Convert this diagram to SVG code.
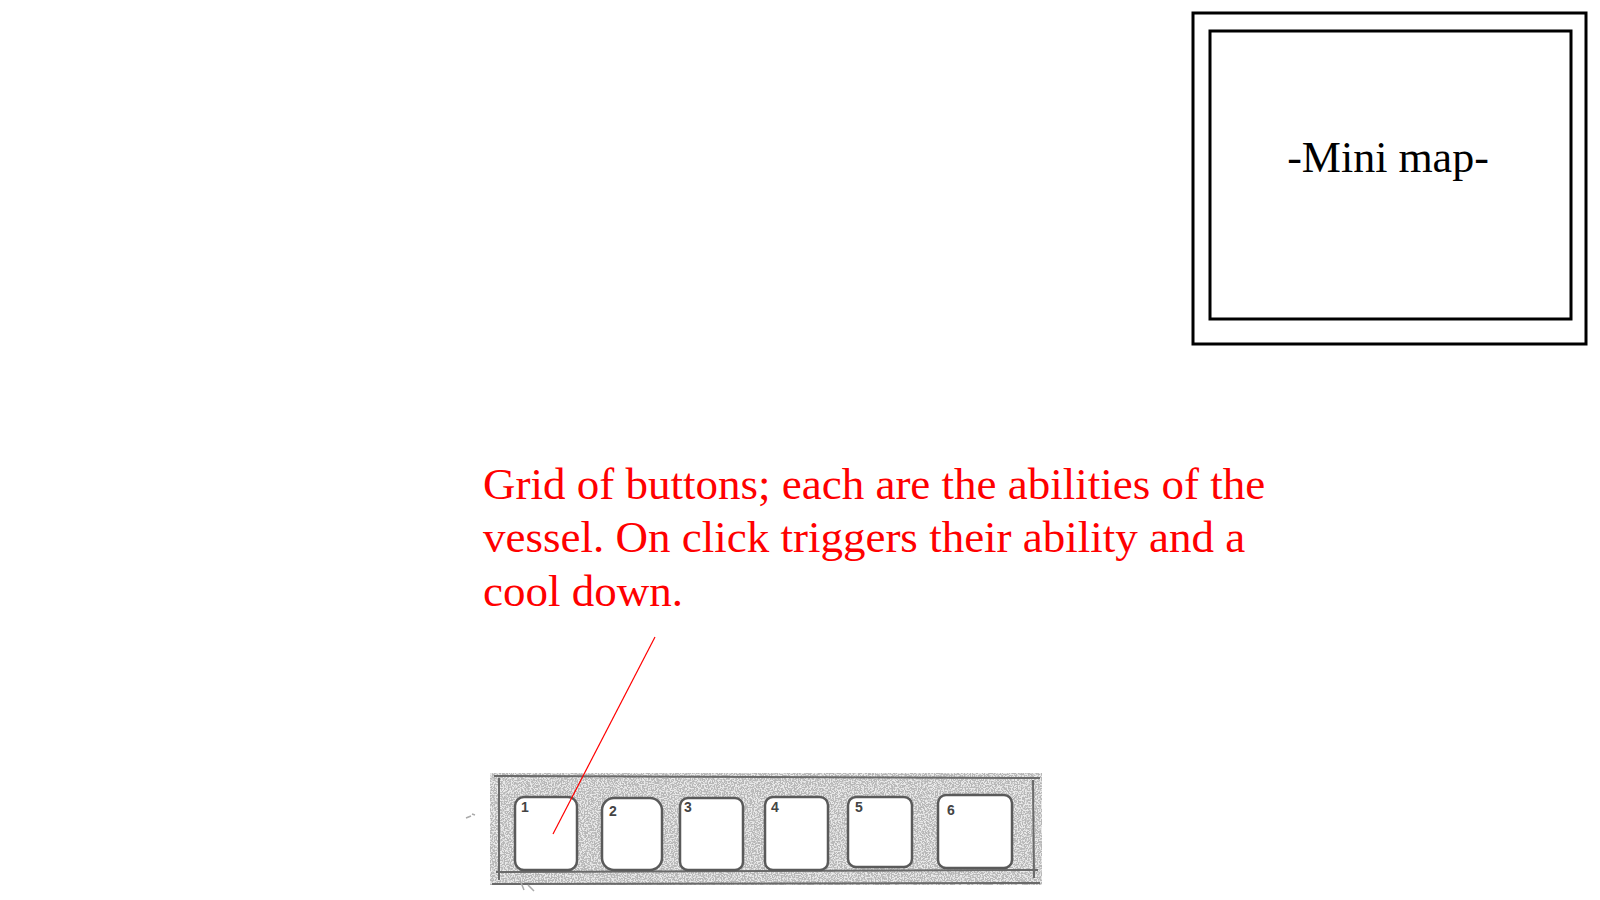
<svg xmlns="http://www.w3.org/2000/svg" width="1600" height="900" viewBox="0 0 1600 900">
  <style>
    .frame { fill: none; stroke: #000; stroke-width: 3; }
    .label { font-family: "Liberation Serif", "Times New Roman", serif; }
    .caption { font-family: "Liberation Serif", "Times New Roman", serif; font-size: 45px; fill: #ff0000; }
    .btn { fill: #ffffff; stroke: #5a5a5a; stroke-width: 2.5; }
    .num { font-family: "Liberation Sans", Arial, sans-serif; font-size: 14px; fill: #444; font-weight: bold; }
    .sketch { fill: none; stroke: #6a6a6a; stroke-width: 2; }
  </style>
  <defs>
    <filter id="pencil" x="0" y="0" width="100%" height="100%">
      <feTurbulence type="fractalNoise" baseFrequency="0.7" numOctaves="2" seed="7" result="n"/>
      <feColorMatrix in="n" type="matrix" values="0 0 0 0 0.5  0 0 0 0 0.5  0 0 0 0 0.5  0 0 0 -6 3.6" result="g"/>
      <feComposite in="g" in2="SourceGraphic" operator="in"/>
    </filter>
  </defs>
  <rect width="1600" height="900" fill="#ffffff"/>

  <g id="minimap">
    <rect class="frame" x="1193" y="13" width="393" height="331"/>
    <rect class="frame" x="1210" y="31" width="361" height="288"/>
    <text class="label" x="1388" y="172" font-size="44" text-anchor="middle" fill="#000">-Mini map-</text>
  </g>

  <g id="caption">
    <text class="caption" x="483" y="499">Grid of buttons; each are the abilities of the</text>
    <text class="caption" x="483" y="552">vessel. On click triggers their ability and a</text>
    <text class="caption" x="483" y="606">cool down.</text>
  </g>

  <g id="ability-bar">
    <rect x="490" y="773" width="552" height="112" fill="#000" filter="url(#pencil)"/>
    <rect x="490" y="773" width="552" height="112" fill="#a8a8a8" opacity="0.25"/>
    <path class="sketch" d="M499 778 L499 880 M494 776 L1040 778 M496 872 L1038 870 M1033 780 L1034 878 M492 884 L1040 883"/>
    <g id="button-1">
      <rect class="btn" x="515" y="797" width="62" height="73" rx="9"/>
      <text class="num" x="521" y="812">1</text>
    </g>
    <g id="button-2">
      <rect class="btn" x="602" y="798" width="60" height="72" rx="12"/>
      <text class="num" x="609" y="816">2</text>
    </g>
    <g id="button-3">
      <rect class="btn" x="680" y="798" width="63" height="72" rx="8"/>
      <text class="num" x="684" y="812">3</text>
    </g>
    <g id="button-4">
      <rect class="btn" x="765" y="797" width="63" height="73" rx="8" stroke="#333" stroke-width="3"/>
      <text class="num" x="771" y="812">4</text>
    </g>
    <g id="button-5">
      <rect class="btn" x="848" y="797" width="64" height="70" rx="8"/>
      <text class="num" x="855" y="812">5</text>
    </g>
    <g id="button-6">
      <rect class="btn" x="938" y="795" width="74" height="73" rx="8"/>
      <text class="num" x="947" y="815">6</text>
    </g>
    <path d="M466 818 l5 -2 M472 814 l3 1 M520 880 l4 10 M528 885 l6 6" stroke="#aaa" stroke-width="1.5" fill="none"/>
  </g>

  <g id="connectors">
    <line x1="655" y1="637" x2="553" y2="834" stroke="#ff0000" stroke-width="1.2"/>
  </g>
</svg>
